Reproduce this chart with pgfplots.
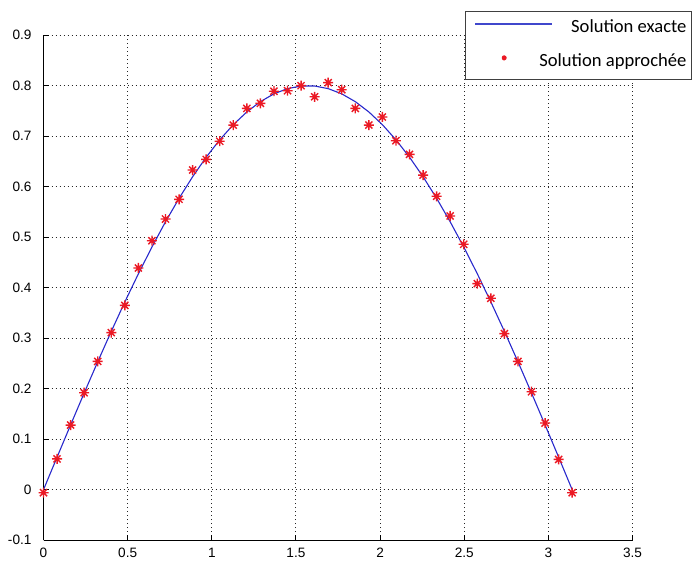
\documentclass[border=0pt]{standalone}
\usepackage{fontspec}
\setmainfont{Liberation Sans}
\newfontfamily\legfont{Carlito}
\usepackage{pgfplots}
\pgfplotsset{compat=1.18}
\usepackage{pgfplotstable}

\definecolor{legblue}{rgb}{0.25,0.28,0.80}
\definecolor{curveblue}{rgb}{0.16,0.16,0.80}
\definecolor{markred}{rgb}{0.92,0.10,0.14}

\pgfdeclareplotmark{mstar}{%
  \pgfpathmoveto{\pgfqpoint{-\pgfplotmarksize}{0pt}}%
  \pgfpathlineto{\pgfqpoint{\pgfplotmarksize}{0pt}}%
  \pgfpathmoveto{\pgfqpoint{0pt}{-\pgfplotmarksize}}%
  \pgfpathlineto{\pgfqpoint{0pt}{\pgfplotmarksize}}%
  \pgfpathmoveto{\pgfqpoint{-.707\pgfplotmarksize}{-.707\pgfplotmarksize}}%
  \pgfpathlineto{\pgfqpoint{.707\pgfplotmarksize}{.707\pgfplotmarksize}}%
  \pgfpathmoveto{\pgfqpoint{-.707\pgfplotmarksize}{.707\pgfplotmarksize}}%
  \pgfpathlineto{\pgfqpoint{.707\pgfplotmarksize}{-.707\pgfplotmarksize}}%
  \pgfusepathqstroke}

\pgfplotstableread{
x y
0.00000 0.00000
0.08055 0.06437
0.16111 0.12833
0.24166 0.19145
0.32221 0.25333
0.40277 0.31357
0.48332 0.37178
0.56388 0.42757
0.64443 0.48059
0.72498 0.53050
0.80554 0.57696
0.88609 0.61968
0.96664 0.65839
1.04720 0.69282
1.12775 0.72276
1.20831 0.74801
1.28886 0.76841
1.36941 0.78383
1.44997 0.79417
1.53052 0.79935
1.61107 0.79935
1.69163 0.79417
1.77218 0.78383
1.85274 0.76841
1.93329 0.74801
2.01384 0.72276
2.09440 0.69282
2.17495 0.65839
2.25550 0.61968
2.33606 0.57696
2.41661 0.53050
2.49717 0.48059
2.57772 0.42757
2.65827 0.37178
2.73883 0.31357
2.81938 0.25333
2.89993 0.19145
2.98049 0.12833
3.06104 0.06437
3.14159 0.00000
}\exactdata

\pgfplotstableread{
x y
0.00000 -0.006
0.08055 0.061
0.16111 0.128
0.24166 0.192
0.32221 0.254
0.40277 0.311
0.48332 0.365
0.56388 0.439
0.64443 0.493
0.72498 0.536
0.80554 0.575
0.88609 0.633
0.96664 0.654
1.04720 0.690
1.12775 0.722
1.20831 0.755
1.28886 0.765
1.36941 0.789
1.44997 0.790
1.53052 0.800
1.61107 0.778
1.69163 0.806
1.77218 0.792
1.85274 0.755
1.93329 0.722
2.01384 0.738
2.09440 0.691
2.17495 0.664
2.25550 0.623
2.33606 0.581
2.41661 0.542
2.49717 0.486
2.57772 0.408
2.65827 0.379
2.73883 0.309
2.81938 0.254
2.89993 0.194
2.98049 0.132
3.06104 0.060
3.14159 -0.006
}\approxdata

\begin{document}
\begin{tikzpicture}
\useasboundingbox (0,0) rectangle (347pt,283pt);
\begin{axis}[
  at={(21.75pt,12.9pt)}, anchor=south west,
  scale only axis, width=294.5pt, height=252.5pt,
  xmin=0, xmax=3.5, ymin=-0.1, ymax=0.9,
  axis x line=bottom, axis y line=left,
  axis line style={-, black, line width=0.5pt},
  tick align=inside, major tick length=2.8pt,
  tick style={black, line width=0.5pt},
  xtick={0,0.5,1,1.5,2,2.5,3,3.5},
  xticklabels={0,0.5,1,1.5,2,2.5,3,3.5},
  ytick={-0.1,0,0.1,0.2,0.3,0.4,0.5,0.6,0.7,0.8,0.9},
  yticklabels={-0.1,0,0.1,0.2,0.3,0.4,0.5,0.6,0.7,0.8,0.9},
  xticklabel style={font=\fontsize{6.8}{7}\selectfont, yshift=-0.5pt},
  yticklabel style={font=\fontsize{6.8}{7}\selectfont, xshift=-2.5pt},
  grid=major,
  major grid style={black!85, line width=0.45pt, dash pattern=on 0.5pt off 1.5pt},
  clip=false,
  reverse legend,
  legend cell align=right,
  legend style={at={(1.101,1.0479)}, anchor=north east,
    draw=black!75, line width=0.5pt, fill=white,
    inner xsep=2.5pt, inner ysep=4.25pt,
    row sep=8.5pt, column sep=-7pt,
    font=\fontsize{9.3}{11}\selectfont\legfont,
    nodes={inner sep=0pt, text height=6.5pt, text depth=2pt}},
]
\addplot[only marks, markred, mark=mstar, mark size=2.5pt,
  mark options={line width=0.7pt},
  legend image code/.code={%
    \path (-2pt,2.3pt);
    \draw[markred, only marks, mark=mstar, mark size=1.2pt, line width=0.6pt]
      plot coordinates {(14.5pt,2.3pt)};}]
  table {\approxdata};
\addlegendentry{Solution approchée}
\addplot[curveblue, line width=0.55pt,
  legend image code/.code={%
    \path (-2pt,2.3pt);
    \draw[legblue, line width=1.2pt] (0pt,2.3pt) -- (38.5pt,2.3pt);}]
  table {\exactdata};
\addlegendentry{Solution exacte}
\end{axis}
\end{tikzpicture}
\end{document}
